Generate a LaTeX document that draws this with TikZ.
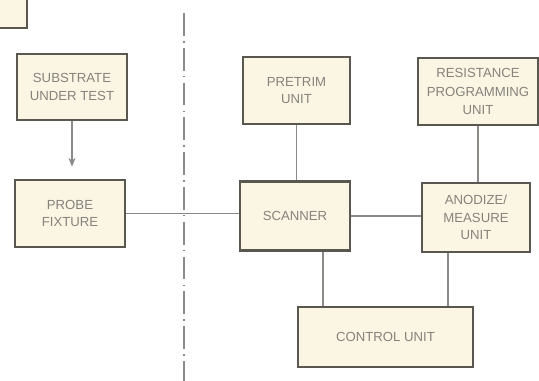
\documentclass[tikz,border=0pt]{standalone}
\usepackage{fontspec}
\newfontfamily\blkfont{Liberation Sans}
\usetikzlibrary{positioning,calc,arrows.meta}
\definecolor{boxfill}{HTML}{FBF6E4}
\definecolor{boxedge}{HTML}{5A5650}
\definecolor{wirecol}{HTML}{8C8A86}
\definecolor{inkcol}{HTML}{86827C}

\begin{document}
\begin{tikzpicture}[x=0.02cm,y=-0.02cm,font=\blkfont\fontsize{7.5}{10}\selectfont,
  blk/.style={draw=boxedge,fill=boxfill,line width=1.6pt,text=inkcol,align=center,inner sep=0pt},
  wire/.style={draw=wirecol,line width=0.8pt}]
\useasboundingbox (0,0) rectangle (539,380);
\node[blk,minimum width=38*0.02cm,minimum height=38*0.02cm] (corner) at (8,9) {};
\node[blk,minimum width=2.2cm,minimum height=1.32cm] (sub) at (72,87) {SUBSTRATE\\UNDER TEST};
\node[blk,minimum width=2.2cm,minimum height=1.34cm] (probe) at (70,213.5) {PROBE\\FIXTURE};
\node[blk,minimum width=2.14cm,minimum height=1.34cm] (pretrim) at (296.5,90.5) {PRETRIM\\UNIT};
\node[blk,minimum width=2.4cm,minimum height=1.34cm,font=\blkfont\fontsize{7.5}{10.5}\selectfont] (resist) at (478,91.5) {RESISTANCE\\PROGRAMMING\\UNIT};
\node[blk,minimum width=2.2cm,minimum height=1.38cm] (scanner) at (295,216) {SCANNER};
\node[blk,minimum width=2.16cm,minimum height=1.38cm] (anodize) at (476,217.5) {ANODIZE/\\MEASURE\\UNIT};
\node[blk,minimum width=3.5cm,minimum height=1.2cm] (control) at (385.5,337) {CONTROL UNIT};
% divider
\coordinate (divtop) at (184,13); \coordinate (divbot) at (184,382);
\draw[wirecol,line width=0.8pt,dash pattern=on 13pt off 3pt on 0.8pt off 3pt] (divtop) -- (divbot);
% links
\coordinate (scanleg) at ($(scanner.south)+(28,0)$);
\coordinate (anodleg) at ($(anodize.south)+(-28,0)$);
\draw[wire,-{Stealth[length=5pt,width=4pt]},shorten >=0.24cm] (sub.south) -- (sub.south |- probe.north);
\draw[wire] (probe.east) -- (probe.east -| scanner.west);
\draw[wire] (scanner.east) -- (scanner.east -| anodize.west);
\draw[wire] (pretrim.south) -- (pretrim.south |- scanner.north);
\draw[wire] (resist.south) -- (resist.south |- anodize.north);
\draw[wire] (scanleg) -- (scanleg |- control.north);
\draw[wire] (anodleg) -- (anodleg |- control.north);
\end{tikzpicture}
\end{document}
